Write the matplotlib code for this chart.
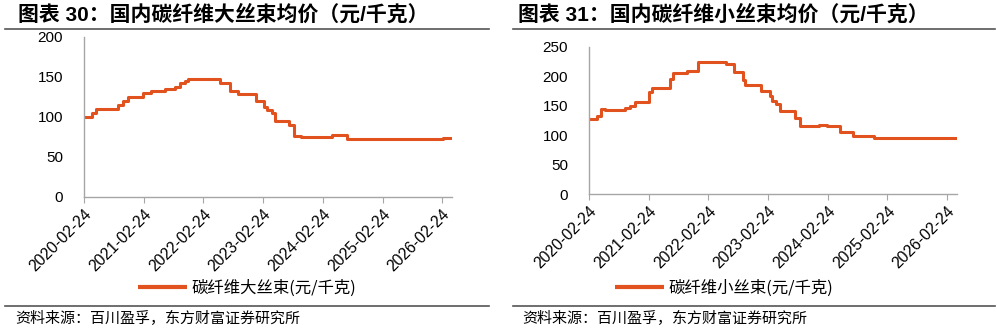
import matplotlib
matplotlib.use("Agg")
import matplotlib.pyplot as plt
import matplotlib.dates as mdates
import pandas as pd

plt.rcParams['font.family'] = ['Liberation Sans', 'Noto Sans CJK SC', 'DejaVu Sans']

# ---- data (step changes: date, price) ----
large_dates = ["2020-02-24", "2020-04-13", "2020-05-08", "2020-09-21", "2020-10-21",
               "2020-11-21", "2021-02-21", "2021-04-12", "2021-07-02", "2021-09-01",
               "2021-10-01", "2021-11-01", "2021-11-21", "2021-12-21", "2022-03-14",
               "2022-06-03", "2022-08-03", "2022-09-23", "2023-01-09", "2023-02-28",
               "2023-03-18", "2023-04-17", "2023-05-05", "2023-08-04", "2023-09-03",
               "2023-10-16", "2024-04-23", "2024-07-24", "2026-03-02", "2026-04-25"]
large_values = [100, 105, 110, 115, 120,
                125, 130, 132, 135, 138,
                142, 145, 147.5, 148, 147,
                143, 132, 129, 120, 113,
                109, 105, 95, 90, 76,
                75, 77.5, 72.5, 73.4, 73.4]

small_dates = ["2020-02-24", "2020-04-10", "2020-05-05", "2020-06-01", "2020-10-01",
               "2020-11-01", "2020-12-01", "2021-02-24", "2021-03-14", "2021-07-03",
               "2021-07-20", "2021-10-14", "2021-12-24", "2022-06-13", "2022-08-03",
               "2022-09-23", "2022-10-09", "2023-01-12", "2023-03-06", "2023-03-21",
               "2023-04-14", "2023-05-08", "2023-08-10", "2023-09-08", "2023-10-24",
               "2024-01-04", "2024-02-18", "2024-05-09", "2024-08-01", "2024-12-05",
               "2026-04-27"]
small_values = [128, 133, 145, 143, 146,
                150, 156, 173, 180, 196,
                206, 210, 225, 221, 208,
                194, 186, 176, 166, 159,
                153, 141, 130, 116, 115,
                117, 115, 106, 98, 95,
                95]

tick_labels = ["2020-02-24", "2021-02-24", "2022-02-24", "2023-02-24",
               "2024-02-24", "2025-02-24", "2026-02-24"]

titles = ["图表 30：国内碳纤维大丝束均价（元/千克）", "图表 31：国内碳纤维小丝束均价（元/千克）"]
legend_labels = ["碳纤维大丝束(元/千克)", "碳纤维小丝束(元/千克)"]
source = "资料来源：百川盈孚，东方财富证券研究所"

COLOR = "#E2521E"
AXC = "#A6A6A6"
W, H = 997, 330

fig = plt.figure(figsize=(W / 100, H / 100), dpi=100)

def fx(px):
    return px / W

def fy(py):
    return 1 - py / H

panels = [
    dict(dates=large_dates, vals=large_values, ylim=(0, 200), yt=[0, 50, 100, 150, 200],
         box=(84, 37, 452, 197), tx=18, line=(5, 489), leg=(247, 288), title=titles[0],
         label=legend_labels[0], sx=15),
    dict(dates=small_dates, vals=small_values, ylim=(0, 250), yt=[0, 50, 100, 150, 200, 250],
         box=(589, 47, 957, 194), tx=518, line=(513, 995), leg=(724, 288), title=titles[1],
         label=legend_labels[1], sx=522),
]

ticks = pd.to_datetime(tick_labels)
for p in panels:
    l, t, r, b = p["box"]
    ax = fig.add_axes([fx(l), fy(b), fx(r - l), fy(t) - fy(b)])
    d = pd.to_datetime(p["dates"])
    ax.plot(d, p["vals"], drawstyle="steps-post", color=COLOR, lw=2.2, solid_capstyle="butt")
    ax.set_ylim(*p["ylim"])
    ax.set_yticks(p["yt"])
    ax.set_xlim(pd.Timestamp("2020-02-24"), d[-1])
    ax.set_xticks(ticks)
    ax.set_xticklabels(tick_labels, rotation=45, ha="right", rotation_mode="anchor")
    for s in ["top", "right"]:
        ax.spines[s].set_visible(False)
    for s in ["left", "bottom"]:
        ax.spines[s].set_color(AXC)
        ax.spines[s].set_linewidth(1.0)
    ax.tick_params(axis="y", length=0, labelsize=11, pad=15)
    ax.tick_params(axis="x", length=4, color=AXC, labelsize=11.3, pad=3)
    ax.set_facecolor("none")

    # title
    fig.text(fx(p["tx"]), fy(15), p["title"], fontsize=15, fontweight="bold",
             family=["Liberation Sans", "Noto Sans CJK SC"], va="center", ha="left")
    x0, x1 = p["line"]
    fig.add_artist(plt.Line2D([fx(x0), fx(x1)], [fy(29), fy(29)], color="#555555", lw=1.2))
    fig.add_artist(plt.Line2D([fx(x0), fx(x1)], [fy(306), fy(306)], color="#555555", lw=1.2))
    fig.text(fx(p["sx"]), fy(318), source, fontsize=10.8, family=["Noto Sans CJK SC"],
             va="center", ha="left")
    lx, ly = p["leg"]
    ax.legend([ax.lines[0]], [p["label"]], loc="center", bbox_to_anchor=(fx(lx), fy(ly)),
              bbox_transform=fig.transFigure, frameon=False,
              prop={"family": ["Noto Sans CJK SC"], "size": 11.8}, handlelength=3.0,
              handletextpad=0.3)
    ax.legend_.legend_handles[0].set_linewidth(3)

fig.savefig("out.png", dpi=100, facecolor="white")
